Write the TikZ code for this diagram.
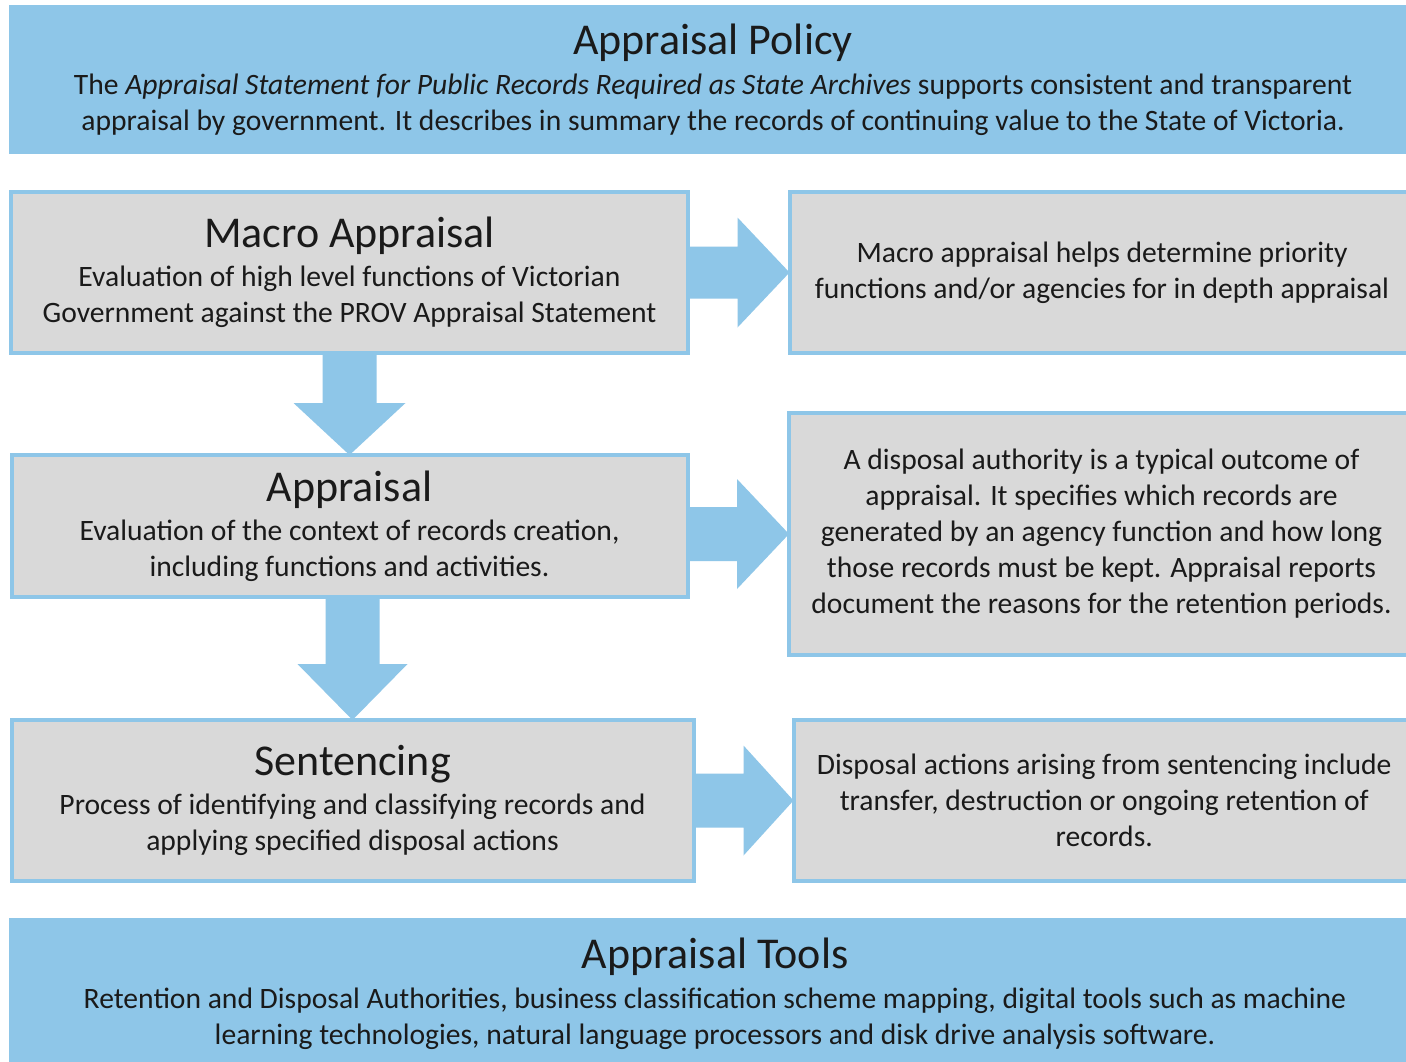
\documentclass[tikz,border=0pt]{standalone}
\usepackage{fontspec}
\setmainfont{Carlito}
\usepackage{tikz}
\usetikzlibrary{backgrounds, calc, positioning}
\usepackage{xcolor}
\definecolor{PanelBlue}{HTML}{8EC6E8}
\definecolor{PanelGrey}{HTML}{D9D9D9}
\definecolor{InkBlack}{HTML}{1A1A1A}
\newcommand{\paneltitle}{\fontsize{22}{26}\selectfont}
\tikzset{%
  banner/.style={%
    rectangle,%
    fill=PanelBlue,%
    draw=none,%
    outer sep=0pt,%
    text=InkBlack,%
    font={\fontsize{14.8}{18}\selectfont},%
    align=center%
  },
  stage_block/.style={%
    rectangle,%
    fill=PanelGrey,%
    draw=PanelBlue,%
    line width=2pt,%
    outer sep=0pt,%
    text=InkBlack,%
    font={\fontsize{14.8}{18}\selectfont},%
    align=center%
  },
  fat_arrow/.style={%
    fill=PanelBlue,%
    draw=none%
  },
}

\begin{document}
\begin{tikzpicture}[x=0.5pt, y=-0.5pt]

    \useasboundingbox (0,0) rectangle (1406,1061);
    \clip (0,0) rectangle (1406,1061);

    \node [banner, minimum width=704pt, minimum height=74.5pt]
      (Policy) at (713,79.5)
      {{\paneltitle Appraisal Policy}\\[2pt]
       The \textit{Appraisal Statement for Public Records Required as State Archives} supports consistent and transparent\\
       appraisal by government. It describes in summary the records of continuing value to the State of Victoria.};

    \node [stage_block, minimum width=338.5pt, minimum height=80.5pt]
      (Macro) at (349.5,272.5)
      {{\paneltitle Macro Appraisal}\\[1.5pt]
       Evaluation of high level functions of Victorian\\
       Government against the PROV Appraisal Statement};
    \node [stage_block, minimum width=338pt, minimum height=71pt,
      below = 51pt of Macro] (Appr)
      {{\paneltitle Appraisal}\\[1.5pt]
       Evaluation of the context of records creation,\\
       including functions and activities.};
    \node [stage_block, minimum width=341pt, minimum height=80.5pt,
      below = 61.5pt of Appr, xshift=1.5pt] (Sent)
      {{\paneltitle Sentencing}\\[1.5pt]
       Process of identifying and classifying records and\\
       applying specified disposal actions};

    \node [stage_block, minimum width=312.5pt, minimum height=80.5pt,
      right = 50.75pt of Macro] (MacroOut)
      {Macro appraisal helps determine priority\\
       functions and/or agencies for in depth appraisal};
    \node [stage_block, minimum width=312.5pt, minimum height=121pt,
      right = 50.75pt of Appr, yshift=-4pt] (ApprOut)
      {A disposal authority is a typical outcome of\\
       appraisal. It specifies which records are\\
       generated by an agency function and how long\\
       those records must be kept. Appraisal reports\\
       document the reasons for the retention periods.};
    \node [stage_block, minimum width=310.75pt, minimum height=80.5pt,
      right = 50pt of Sent] (SentOut)
      {Disposal actions arising from sentencing include\\
       transfer, destruction or ongoing retention of\\
       records.};

    \node [banner, minimum width=706pt, minimum height=76pt]
      (Tools) at (715,994)
      {{\paneltitle Appraisal Tools}\\[2pt]
       Retention and Disposal Authorities, business classification scheme mapping, digital tools such as machine\\
       learning technologies, natural language processors and disk drive analysis software.};

    \begin{scope}[on background layer]
      \fill [white] (0,0) rectangle (1406,1061);
      % sideways arrows
      \fill [fat_arrow]
        ($(Macro.east |- MacroOut.west)+(0,-26)$)
        -- ($(MacroOut.west)+(-52,-26)$)
        -- ($(MacroOut.west)+(-52,-55)$)
        -- (MacroOut.west)
        -- ($(MacroOut.west)+(-52,55)$)
        -- ($(MacroOut.west)+(-52,26)$)
        -- ($(Macro.east |- MacroOut.west)+(0,26)$)
        -- cycle;
      \fill [fat_arrow]
        ($(Appr.east |- ApprOut.west)+(0,-27)$)
        -- ($(ApprOut.west)+(-52,-27)$)
        -- ($(ApprOut.west)+(-52,-55)$)
        -- (ApprOut.west)
        -- ($(ApprOut.west)+(-52,55)$)
        -- ($(ApprOut.west)+(-52,27)$)
        -- ($(Appr.east |- ApprOut.west)+(0,27)$)
        -- cycle;
      \fill [fat_arrow]
        ($(Sent.east |- SentOut.west)+(0,-27)$)
        -- ($(SentOut.west)+(-50,-27)$)
        -- ($(SentOut.west)+(-50,-55)$)
        -- (SentOut.west)
        -- ($(SentOut.west)+(-50,55)$)
        -- ($(SentOut.west)+(-50,27)$)
        -- ($(Sent.east |- SentOut.west)+(0,27)$)
        -- cycle;
      % downward arrows
      \fill [fat_arrow]
        ($(Macro.south)+(-27,0)$)
        -- ($(Appr.north)+(-27,-52)$)
        -- ($(Appr.north)+(-56,-52)$)
        -- (Appr.north)
        -- ($(Appr.north)+(56,-52)$)
        -- ($(Appr.north)+(27,-52)$)
        -- ($(Macro.south)+(27,0)$)
        -- cycle;
      \fill [fat_arrow]
        ($(Appr.south -| Sent.north)+(-27,0)$)
        -- ($(Sent.north)+(-27,-56)$)
        -- ($(Sent.north)+(-55,-56)$)
        -- (Sent.north)
        -- ($(Sent.north)+(55,-56)$)
        -- ($(Sent.north)+(27,-56)$)
        -- ($(Appr.south -| Sent.north)+(27,0)$)
        -- cycle;
    \end{scope}

  \end{tikzpicture}
\end{document}
